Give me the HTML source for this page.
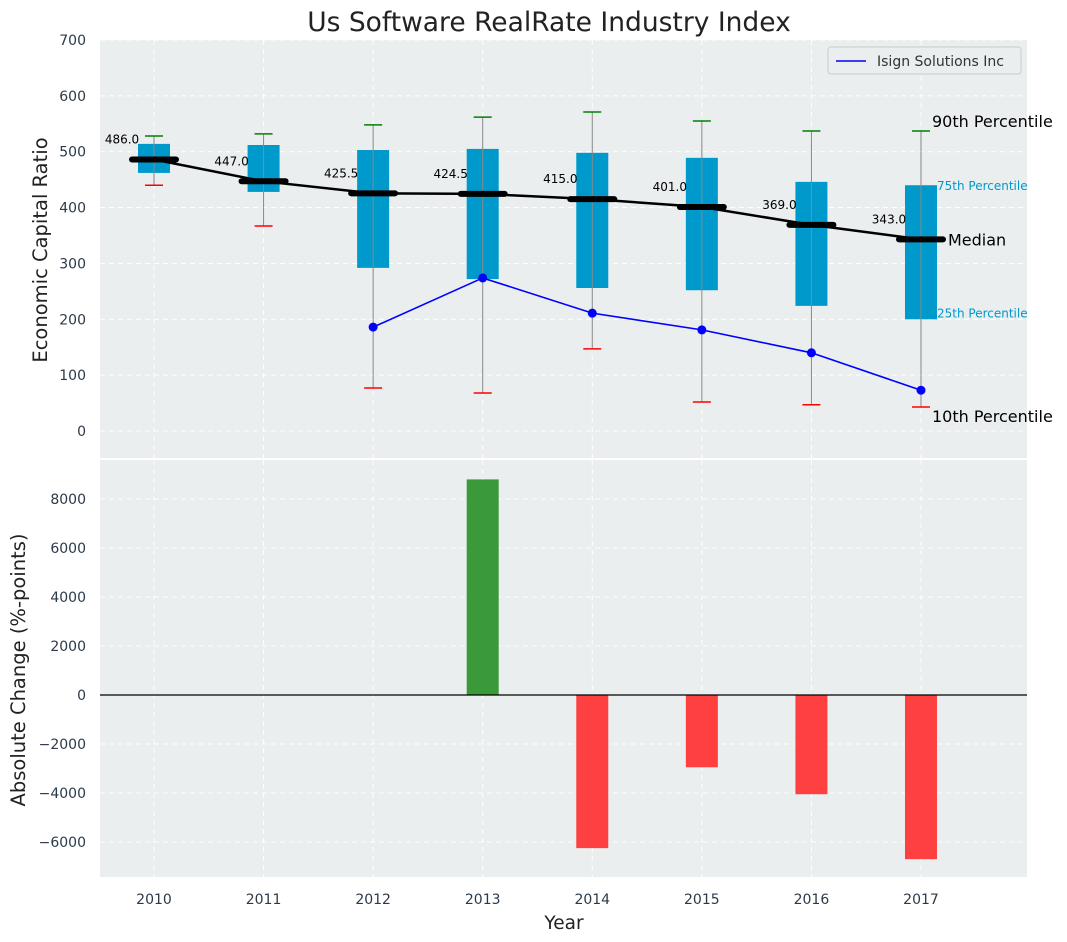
<!DOCTYPE html>
<html><head><meta charset="utf-8"><style>
html,body{margin:0;padding:0;background:#fff;}
svg{display:block;font-family:"DejaVu Sans","Liberation Sans",sans-serif;}
</style></head><body>
<svg id="chart" width="1067" height="942" viewBox="0 0 1067 942"></svg>
<script>
const years=[2010,2011,2012,2013,2014,2015,2016,2017];
const p10=[440,367,77,68,147,52,47,43];
const q1=[462,428,292,272,256,252,224,200];
const medians=[486,447,425.5,424.5,415,401,369,343];
const q3=[514,512,503,505,498,489,446,440];
const p90=[528,532,548,562,571,555,537,537];
const companyYears=[2012,2013,2014,2015,2016,2017];
const companyVals=[186,274,211,181,140,73];
const changeYears=[2013,2014,2015,2016,2017];
const changeVals=[8800,-6250,-2950,-4050,-6700];
const topTicks=[0,100,200,300,400,500,600,700];
const botTicks=[-6000,-4000,-2000,0,2000,4000,6000,8000];

const NS="http://www.w3.org/2000/svg";
const svg=document.getElementById('chart');
function el(tag,attrs,parent){const e=document.createElementNS(NS,tag);for(const k in attrs)e.setAttribute(k,attrs[k]);(parent||svg).appendChild(e);return e;}
const X0=100,X1=1027;
const x=v=>154+(v-2010)*109.57;
const yT=v=>431-v*0.5586;
const yB=v=>695-v*0.0245;
const T0=40,T1=458,B0=460,B1=877;

let r=el('rect',{x:X0,y:T0,width:X1-X0,height:T1-T0,fill:'#eaeeee'});


r=el('rect',{x:X0,y:B0,width:X1-X0,height:B1-B0,fill:'#eaeeee'});



years.forEach(yr=>{
  el('line',{x1:x(yr),x2:x(yr),y1:T0,y2:T1,stroke:'#fff','stroke-dasharray':'5,4','stroke-width':1});
  el('line',{x1:x(yr),x2:x(yr),y1:B0,y2:B1,stroke:'#fff','stroke-dasharray':'5,4','stroke-width':1});
  const t=el('text',{x:x(yr),y:904,'text-anchor':'middle','font-size':14,fill:'#2b3a4a'});t.textContent=yr;
  
});
topTicks.forEach(v=>{
  el('line',{x1:X0,x2:X1,y1:yT(v),y2:yT(v),stroke:'#fff','stroke-dasharray':'5,4','stroke-width':1});
  const t=el('text',{x:86,y:yT(v)+5,'text-anchor':'end','font-size':14,fill:'#2b3a4a'});t.textContent=v;
  
});
botTicks.forEach(v=>{
  el('line',{x1:X0,x2:X1,y1:yB(v),y2:yB(v),stroke:'#fff','stroke-dasharray':'5,4','stroke-width':1});
  const t=el('text',{x:86,y:yB(v)+5,'text-anchor':'end','font-size':14,fill:'#2b3a4a'});t.textContent=(v<0?'\u2212'+(-v):v);
  
});

years.forEach((yr,i)=>{
  const cx=x(yr),hw=16;
  const g=el('g',{});
  
  
  el('rect',{x:cx-hw,y:yT(q3[i]),width:hw*2,height:yT(q1[i])-yT(q3[i]),fill:'#0099cc'},g);
  el('line',{x1:cx,x2:cx,y1:yT(p10[i]),y2:yT(p90[i]),stroke:'#888','stroke-width':1},g);
  el('line',{x1:cx-9,x2:cx+9,y1:yT(p90[i]),y2:yT(p90[i]),stroke:'green','stroke-width':1.5},g);
  el('line',{x1:cx-9,x2:cx+9,y1:yT(p10[i]),y2:yT(p10[i]),stroke:'red','stroke-width':1.5},g);
});
let pts=years.map((yr,i)=>x(yr)+','+yT(medians[i])).join(' ');
let pl=el('polyline',{points:pts,fill:'none',stroke:'#000','stroke-width':2.5});

years.forEach((yr,i)=>{
  const m=el('line',{x1:x(yr)-22,x2:x(yr)+22,y1:yT(medians[i]),y2:yT(medians[i]),stroke:'#000','stroke-width':6,'stroke-linecap':'round'});
  
  const t=el('text',{x:x(yr)-32,y:yT(medians[i])-16,'text-anchor':'middle','font-size':12,fill:'#000'});t.textContent=medians[i].toFixed(1);
  
});
pts=companyYears.map((yr,i)=>x(yr)+','+yT(companyVals[i])).join(' ');
pl=el('polyline',{points:pts,fill:'none',stroke:'blue','stroke-width':1.6});

companyYears.forEach((yr,i)=>{
  const c=el('circle',{cx:x(yr),cy:yT(companyVals[i]),r:4.5,fill:'blue'});
  
});
const L=years.length-1,lx=x(years[L]);
function ann(txt,xx,yy,size,col,name){const t=el('text',{x:xx,y:yy,'font-size':size,fill:col});t.textContent=txt;}
ann('90th Percentile',lx+11,yT(p90[L])-4,16,'#000','p90-annotation');
ann('75th Percentile',lx+16,yT(q3[L])+5,12,'#0099cc','p75-annotation');
ann('Median',lx+27,yT(medians[L])+6,16,'#000','median-annotation');
ann('25th Percentile',lx+16,yT(q1[L])-2,12,'#0099cc','p25-annotation');
ann('10th Percentile',lx+11,yT(p10[L])+15,16,'#000','p10-annotation');

const lg=el('g',{});
el('rect',{x:828,y:47,width:193,height:27,fill:'#eaeeee',stroke:'#ccc',rx:3},lg);
el('line',{x1:836,x2:866,y1:61,y2:61,stroke:'blue','stroke-width':1.6},lg);
const lt=el('text',{x:877,y:66,'font-size':14,fill:'#333'},lg);lt.textContent='Isign Solutions Inc';

changeYears.forEach((yr,i)=>{
  const v=changeVals[i],y0=yB(Math.max(v,0)),h=Math.abs(yB(v)-yB(0));
  const b=el('rect',{x:x(yr)-16,y:y0,width:32,height:h,fill:v>=0?'#3a9a3a':'#ff4040'});
  
});
el('line',{x1:X0,x2:X1,y1:yB(0),y2:yB(0),stroke:'#000','stroke-width':1.2});

let t=el('text',{x:549,y:31,'text-anchor':'middle','font-size':26.5,fill:'#222'});t.textContent='Us Software RealRate Industry Index';

t=el('text',{x:47,y:250,'text-anchor':'middle','font-size':19.5,fill:'#222',transform:'rotate(-90 47 250)'});t.textContent='Economic Capital Ratio';

t=el('text',{x:25,y:670,'text-anchor':'middle','font-size':19.5,fill:'#222',transform:'rotate(-90 25 670)'});t.textContent='Absolute Change (%-points)';

t=el('text',{x:564,y:929,'text-anchor':'middle','font-size':18.5,fill:'#222'});t.textContent='Year';

</script>
</body></html>
